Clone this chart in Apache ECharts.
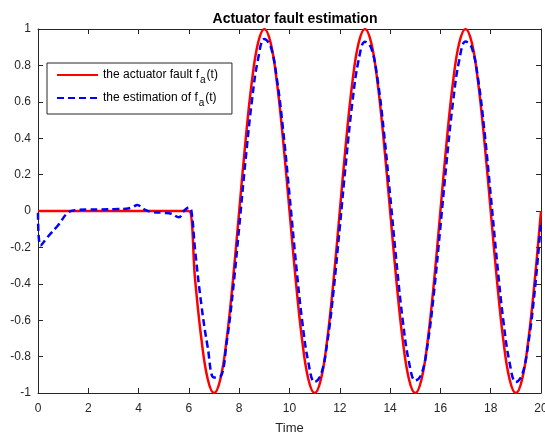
<!DOCTYPE html>
<html>
<head>
<meta charset="utf-8">
<script src="https://cdn.jsdelivr.net/npm/echarts@6/dist/echarts.min.js"></script>
<style>
  html, body { margin: 0; padding: 0; background: #fff; }
  #chart { width: 545px; height: 434px; }
</style>
</head>
<body>
<div id="chart"></div>
<script>
// actuator fault, read at steps of 0.25
const time = [0, 0.25, 0.5, 0.75, 1, 1.25, 1.5, 1.75, 2, 2.25, 2.5, 2.75, 3, 3.25, 3.5, 3.75,
  4, 4.25, 4.5, 4.75, 5, 5.25, 5.5, 5.75, 6, 6.25, 6.5, 6.75, 7, 7.25, 7.5, 7.75,
  8, 8.25, 8.5, 8.75, 9, 9.25, 9.5, 9.75, 10, 10.25, 10.5, 10.75, 11, 11.25, 11.5, 11.75,
  12, 12.25, 12.5, 12.75, 13, 13.25, 13.5, 13.75, 14, 14.25, 14.5, 14.75, 15, 15.25, 15.5, 15.75,
  16, 16.25, 16.5, 16.75, 17, 17.25, 17.5, 17.75, 18, 18.25, 18.5, 18.75, 19, 19.25, 19.5, 19.75, 20];
const fault = [0, 0, 0, 0, 0, 0, 0, 0, 0, 0, 0, 0, 0, 0, 0, 0,
  0, 0, 0, 0, 0, 0, 0, 0, 0, -0.383, -0.707, -0.924, -1, -0.924, -0.707, -0.383,
  0, 0.383, 0.707, 0.924, 1, 0.924, 0.707, 0.383, 0, -0.383, -0.707, -0.924, -1, -0.924, -0.707, -0.383,
  0, 0.383, 0.707, 0.924, 1, 0.924, 0.707, 0.383, 0, -0.383, -0.707, -0.924, -1, -0.924, -0.707, -0.383,
  0, 0.383, 0.707, 0.924, 1, 0.924, 0.707, 0.383, 0, -0.383, -0.707, -0.924, -1, -0.924, -0.707, -0.383, 0];

// estimation (blue dashed)
const estTime = [0, 0.1, 0.4, 0.8, 1.2, 1.55, 2, 2.5, 3, 3.5, 3.75, 3.95, 4.2, 4.5, 5, 5.3, 5.6, 5.8, 6, 6.1,
  6.25, 6.5, 6.75, 7, 7.25, 7.5, 7.75, 8, 8.25, 8.5, 8.75, 9, 9.25, 9.5, 9.75, 10,
  10.25, 10.5, 10.75, 11, 11.25, 11.5, 11.75, 12, 12.25, 12.5, 12.75, 13, 13.25, 13.5, 13.75, 14,
  14.25, 14.5, 14.75, 15, 15.25, 15.5, 15.75, 16, 16.25, 16.5, 16.75, 17, 17.25, 17.5, 17.75, 18,
  18.25, 18.5, 18.75, 19, 19.25, 19.5, 19.75, 20];
const estimate = [-0.01, -0.19, -0.14, -0.078, -0.008, 0.005, 0.008, 0.008, 0.01, 0.012, 0.02, 0.033, 0.01, -0.005, -0.01, -0.015, -0.035, 0, 0.02, 0,
  -0.22, -0.52, -0.75, -0.915, -0.91, -0.724, -0.44, -0.088, 0.276, 0.6, 0.835, 0.945, 0.905, 0.724, 0.44, 0.088,
  -0.276, -0.6, -0.832, -0.94, -0.9, -0.724, -0.44, -0.088, 0.276, 0.598, 0.83, 0.93, 0.895, 0.724, 0.44, 0.088,
  -0.276, -0.598, -0.83, -0.932, -0.896, -0.724, -0.44, -0.088, 0.276, 0.598, 0.83, 0.932, 0.896, 0.724, 0.44, 0.088,
  -0.276, -0.6, -0.832, -0.94, -0.9, -0.724, -0.44, -0.06];

const yTicks = { min: -1, max: 1, interval: 0.2 };
const xTicks = { min: 0, max: 20, interval: 2 };

const axisColor = '#262626';
const font = 'Liberation Sans, Arial, Helvetica, sans-serif';

const chart = echarts.init(document.getElementById('chart'));

function frameAxis(pos, showLabels, margin) {
  return {
    type: 'value',
    position: pos,
    axisLine: { show: true, onZero: false, lineStyle: { color: axisColor, width: 1 } },
    axisTick: { show: true, inside: true, length: 5, lineStyle: { color: axisColor } },
    axisLabel: { show: showLabels, fontFamily: font, fontSize: 12, color: axisColor, margin: margin },
    splitLine: { show: false }
  };
}

const options = {
  animation: false,
  backgroundColor: '#fff',
  title: {
    text: 'Actuator fault estimation',
    left: 290,
    textAlign: 'center',
    top: 7,
    textStyle: { fontFamily: font, fontSize: 14, fontWeight: 'bold', color: '#000' }
  },
  grid: { left: 38, right: 4, top: 29, bottom: 41, outerBoundsMode: 'none', containLabel: false },
  legend: {
    orient: 'vertical',
    left: 47,
    top: 63,
    padding: [6, 14, 6, 9],
    itemWidth: 41,
    itemHeight: 14,
    itemGap: 7,
    borderColor: axisColor,
    borderWidth: 1,
    borderRadius: 0,
    backgroundColor: '#fff',
    itemStyle: { opacity: 0 },
    data: ['fault', 'estimate'],
    formatter: function (name) {
      return name === 'fault'
        ? '{n|the actuator fault f}{s|a}{n|(t)}'
        : '{n|the estimation of f}{s|a}{n|(t)}';
    },
    textStyle: {
      fontFamily: font,
      fontSize: 12,
      color: '#000',
      rich: {
        n: { fontFamily: font, fontSize: 12, color: '#000' },
        s: { fontFamily: font, fontSize: 10, color: '#000', padding: [10, 1, 0, 1] }
      }
    }
  },
  xAxis: [
    Object.assign(frameAxis('bottom', true, 10), {
      min: xTicks.min, max: xTicks.max, interval: xTicks.interval,
      name: 'Time',
      nameLocation: 'middle',
      nameGap: 29,
      nameTextStyle: { fontFamily: font, fontSize: 13, color: axisColor }
    }),
    Object.assign(frameAxis('top', false, 8), {
      min: xTicks.min, max: xTicks.max, interval: xTicks.interval
    })
  ],
  yAxis: [
    Object.assign(frameAxis('left', true, 7), {
      min: yTicks.min, max: yTicks.max, interval: yTicks.interval
    }),
    Object.assign(frameAxis('right', false, 8), {
      min: yTicks.min, max: yTicks.max, interval: yTicks.interval
    })
  ],
  series: [
    {
      name: 'fault',
      type: 'line',
      data: time.map((t, i) => [t, fault[i]]),
      smooth: 0.4,
      symbol: 'none',
      lineStyle: { color: '#ff0000', width: 2.5 },
      itemStyle: { color: '#ff0000' },
      z: 2
    },
    {
      name: 'estimate',
      type: 'line',
      data: estTime.map((t, i) => [t, estimate[i]]),
      smooth: 0.4,
      symbol: 'none',
      lineStyle: { color: '#0000ff', width: 2.5, type: [7, 4] },
      itemStyle: { color: '#0000ff' },
      z: 3
    }
  ]
};

chart.setOption(options);
</script>
</body>
</html>
